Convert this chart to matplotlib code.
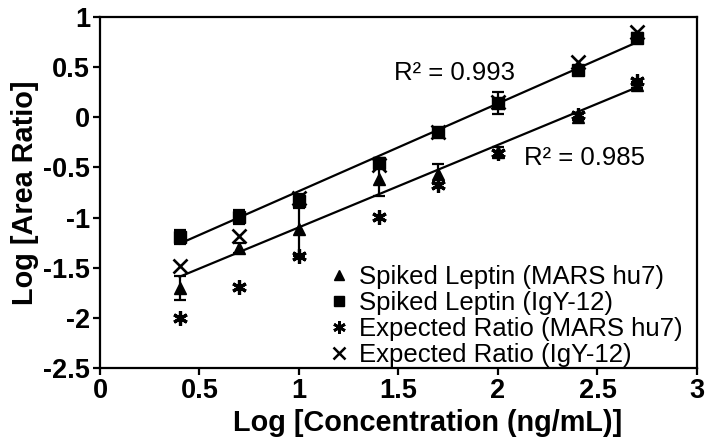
import numpy as np
import matplotlib
matplotlib.use("Agg")
import matplotlib.pyplot as plt
from matplotlib.lines import Line2D

plt.rcParams["font.family"] = ["Liberation Sans", "DejaVu Sans"]

# =========================================================
# DATA
# =========================================================

log_conc = [0.4, 0.7, 1.0, 1.4, 1.7, 2.0, 2.4, 2.7]

spiked_mars = [-1.70, -1.30, -1.11, -0.62, -0.57, -0.35, 0.00, 0.32]
spiked_mars_err = [0.12, 0.05, 0.27, 0.16, 0.10, 0.05, 0.03, 0.03]

spiked_igy = [-1.19, -0.99, -0.83, -0.46, -0.15, 0.14, 0.47, 0.79]
spiked_igy_err = [0.07, 0.07, 0.07, 0.05, 0.03, 0.11, 0.03, 0.05]

expected_mars = [-2.00, -1.69, -1.38, -0.99, -0.68, -0.36, 0.02, 0.36]
expected_igy = [-1.48, -1.18, -0.80, -0.48, -0.15, 0.15, 0.55, 0.85]

# trend lines (slope, intercept) and their R^2
fit_igy = (0.874, -1.610)
fit_mars = (0.822, -1.919)
r2_igy = "0.993"
r2_mars = "0.985"

labels = ["Spiked Leptin (MARS hu7)", "Spiked Leptin (IgY-12)",
          "Expected Ratio (MARS hu7)", "Expected Ratio (IgY-12)"]

# =========================================================
# PLOT
# =========================================================

fig = plt.figure(figsize=(7.12, 4.42), dpi=100)
ax = fig.add_axes([0.1404, 0.1674, 0.8385, 0.7941])

x = np.array(log_conc)
for slope, icpt in (fit_igy, fit_mars):
    ax.plot(x, slope * x + icpt, color="black", lw=1.6, zorder=2)

star = (6, 2, 0)
ax.errorbar(log_conc, spiked_mars, yerr=spiked_mars_err, fmt="^", color="black",
            ms=8.5, capsize=4, elinewidth=1.6, capthick=1.6, zorder=4)
ax.errorbar(log_conc, spiked_igy, yerr=spiked_igy_err, fmt="s", color="black",
            ms=8, capsize=4, elinewidth=1.6, capthick=1.6, zorder=4)
ax.plot(log_conc, expected_mars, ls="none", marker=star, color="black",
        ms=10.5, mew=2.3, zorder=3)
ax.plot(log_conc, expected_igy, ls="none", marker="x", color="black",
        ms=9.5, mew=1.9, zorder=3)

ax.text(1.48, 0.44, "R² = " + r2_igy, fontsize=18.5, va="center", ha="left")
ax.text(2.13, -0.41, "R² = " + r2_mars, fontsize=18.5, va="center", ha="left")

ax.set_xlim(0, 3)
ax.set_ylim(-2.5, 1)
ax.set_xticks([0, 0.5, 1, 1.5, 2, 2.5, 3])
ax.set_xticklabels(["0", "0.5", "1", "1.5", "2", "2.5", "3"])
ax.set_yticks([-2.5, -2, -1.5, -1, -0.5, 0, 0.5, 1])
ax.set_yticklabels(["-2.5", "-2", "-1.5", "-1", "-0.5", "0", "0.5", "1"])
ax.tick_params(direction="out", length=5, width=1.6, labelsize=19.5, pad=2)
for lab in ax.get_xticklabels() + ax.get_yticklabels():
    lab.set_fontweight("bold")
for sp in ax.spines.values():
    sp.set_linewidth(1.6)

ax.set_xlabel("Log [Concentration (ng/mL)]", fontsize=20.8, fontweight="bold")
ax.xaxis.set_label_coords(0.548, -0.118)
ax.set_ylabel("Log [Area Ratio]", fontsize=20.8, fontweight="bold", labelpad=3)

handles = [
    Line2D([], [], ls="none", marker="^", color="black", ms=7.5),
    Line2D([], [], ls="none", marker="s", color="black", ms=7),
    Line2D([], [], ls="none", marker=star, color="black", ms=9, mew=2),
    Line2D([], [], ls="none", marker="x", color="black", ms=8, mew=1.8),
]
ax.legend(handles, labels, loc="upper left", bbox_to_anchor=(0.385, 0.293),
          frameon=False, fontsize=18.5, handlelength=0.7, handletextpad=0.45,
          labelspacing=0.08, borderpad=0, borderaxespad=0)

fig.savefig("out.png", dpi=100)
